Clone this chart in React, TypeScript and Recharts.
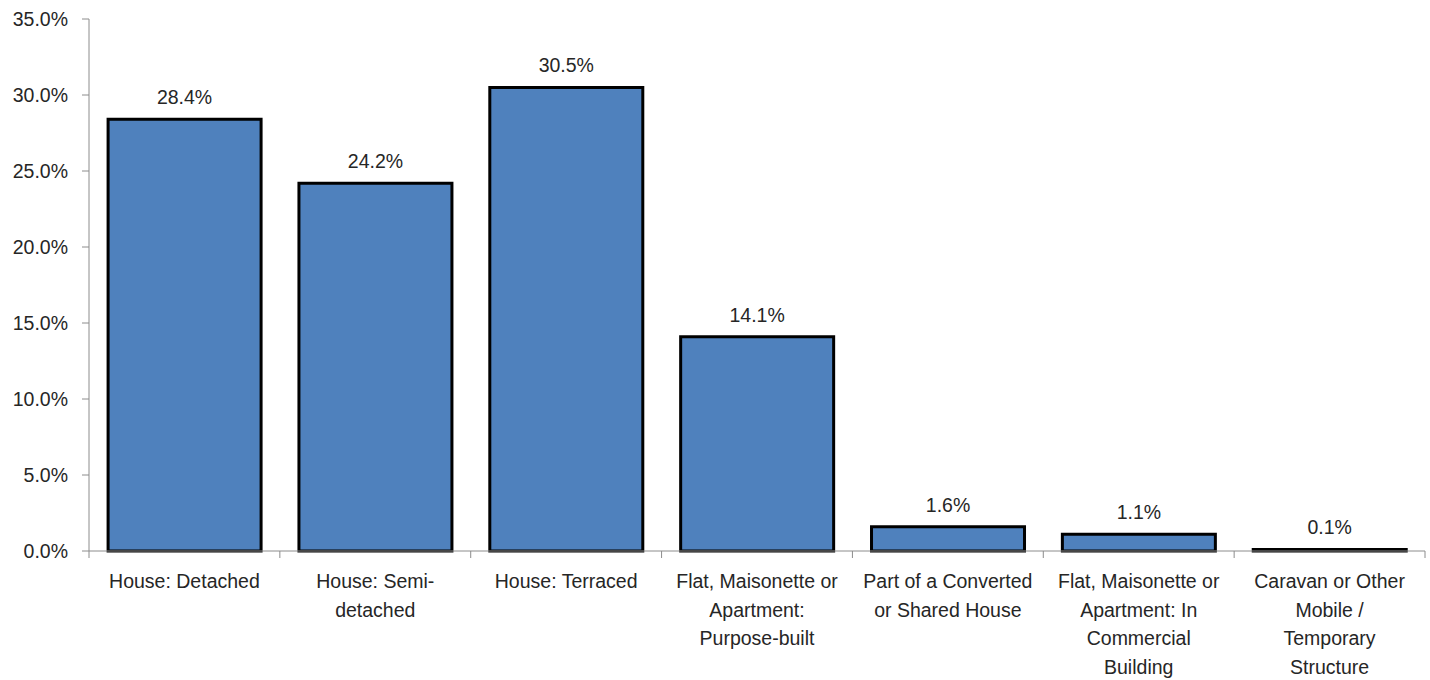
import { BarChart, Bar, XAxis, YAxis, LabelList } from "recharts"

// housing type shares (%), labels split where the reference wraps them
const categories = [
  "House: Detached",
  "House: Semi-|detached",
  "House: Terraced",
  "Flat, Maisonette or|Apartment:|Purpose-built",
  "Part of a Converted|or Shared House",
  "Flat, Maisonette or|Apartment: In|Commercial|Building",
  "Caravan or Other|Mobile /|Temporary|Structure",
]
const shares = [28.4, 24.2, 30.5, 14.1, 1.6, 1.1, 0.1]
const yTicks = [0, 5, 10, 15, 20, 25, 30, 35]

const FONT = "'Liberation Sans', Arial, sans-serif"
const TEXT = "#262626"
const AXIS = "#8c8c8c"
const FS = 19.5

const data = categories.map((c, i) => ({ name: c, value: shares[i] }))

const pct = (v: number) => `${v.toFixed(1)}%`

// excel puts the x ticks between categories, so draw them from the tick itself
function XTick(props: any) {
  const { x, y, payload, width, visibleTicksCount, index } = props
  const band = width / visibleTicksCount
  const lines: string[] = String(payload.value).split("|")
  const axisY = y
  return (
    <g>
      <line x1={x - band / 2} x2={x - band / 2} y1={axisY} y2={axisY + 7} stroke={AXIS} />
      {index === visibleTicksCount - 1 && (
        <line x1={x + band / 2} x2={x + band / 2} y1={axisY} y2={axisY + 7} stroke={AXIS} />
      )}
      <text x={x} y={axisY + 37} textAnchor="middle" fill={TEXT} fontSize={FS} fontFamily={FONT}>
        {lines.map((l, i) => (
          <tspan key={i} x={x} dy={i === 0 ? 0 : 28.5}>
            {l}
          </tspan>
        ))}
      </text>
    </g>
  )
}

export default function App() {
  return (
    <div style={{ position: "absolute", left: 0, top: 0, background: "#fff" }}>
      <BarChart
        width={1430}
        height={680}
        data={data}
        margin={{ top: 19, right: 5, left: 0, bottom: 0 }}
        barCategoryGap="10%"
      >
        <XAxis
          dataKey="name"
          height={129}
          interval={0}
          tickLine={false}
          tickSize={0}
          tickMargin={0}
          stroke={AXIS}
          tick={<XTick />}
        />
        <YAxis
          width={89}
          domain={[0, 35]}
          ticks={yTicks}
          tickFormatter={pct}
          stroke={AXIS}
          tickSize={7}
          tickMargin={14}
          tick={{ fill: TEXT, fontSize: FS, fontFamily: FONT }}
          interval={0}
        />
        <Bar dataKey="value" fill="#4f81bd" stroke="#000" strokeWidth={3} isAnimationActive={false}>
          <LabelList
            dataKey="value"
            position="top"
            offset={15}
            formatter={(v: any) => pct(Number(v))}
            fill={TEXT}
            fontSize={FS}
            fontFamily={FONT}
          />
        </Bar>
      </BarChart>
    </div>
  )
}
